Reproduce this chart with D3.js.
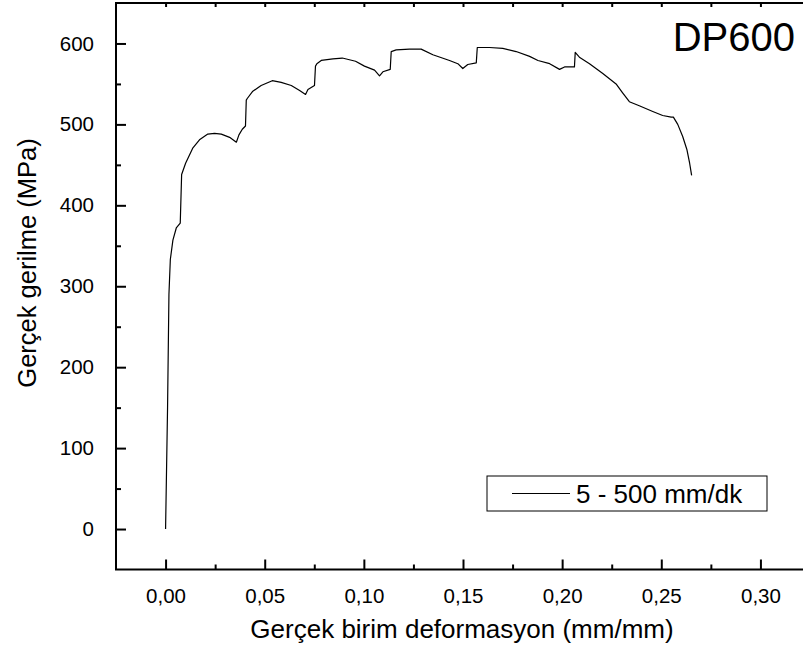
<!DOCTYPE html>
<html>
<head>
<meta charset="utf-8">
<script src="https://cdn.jsdelivr.net/npm/d3@7"></script>
<style>
  body { margin: 0; background: #fff; }
  svg { display: block; font-family: "Liberation Sans", Arial, sans-serif; }
</style>
</head>
<body>
<svg id="chart" width="803" height="651"></svg>
<script>
// strain (mm/mm) and true stress (MPa)
var strain = [0, 0.001, 0.0017, 0.0024, 0.0037, 0.0054, 0.0074, 0.0081, 0.0101, 0.0138,
              0.0171, 0.0213, 0.0247, 0.0281, 0.0323, 0.0357, 0.037, 0.0387, 0.0403, 0.0407,
              0.0412, 0.044, 0.0482, 0.0538, 0.0583, 0.0634, 0.0676, 0.0706, 0.0718, 0.0751,
              0.0756, 0.0763, 0.0785, 0.0844, 0.0891, 0.0958, 0.1003, 0.1054, 0.1079, 0.1096,
              0.1133, 0.1138, 0.1163, 0.123, 0.1289, 0.1348, 0.1432, 0.1474, 0.1499, 0.1524,
              0.1567, 0.1572, 0.1634, 0.1701, 0.1768, 0.1836, 0.1878, 0.1937, 0.1987, 0.2012,
              0.2062, 0.2066, 0.2087, 0.2138, 0.2205, 0.2272, 0.2305, 0.2339, 0.2389, 0.2457,
              0.2507, 0.255, 0.2561, 0.2583, 0.2608, 0.2629, 0.2643, 0.2653];
var stress = [0, 150, 290, 333, 357, 372, 378, 438, 452, 471,
              481, 488, 489, 488, 484, 478, 487, 494, 498, 530,
              532, 541, 548, 554, 552, 548, 542, 537, 543, 548,
              572, 575, 579, 581, 582, 578, 572, 567, 560, 565,
              568, 590, 592, 593, 593, 586, 579, 575, 569, 574,
              576, 595, 595, 594, 590, 584, 579, 575, 568, 571,
              571, 589, 583, 575, 563, 550, 539, 528, 523, 516,
              511, 509, 509, 500, 485, 469, 452, 437];

var xTicks = [0, 0.05, 0.10, 0.15, 0.20, 0.25, 0.30];
var xMinor = [0.025, 0.075, 0.125, 0.175, 0.225, 0.275];
var yTicks = [0, 100, 200, 300, 400, 500, 600];
var yMinor = [50, 150, 250, 350, 450, 550];

var seriesName = "5 - 500 mm/dk";
var chartTitle = "DP600";
var xTitle = "Gerçek birim deformasyon (mm/mm)";
var yTitle = "Gerçek gerilme (MPa)";

var svg = d3.select("#chart");

var pLeft = 116, pRight = 810, pTop = 3, pBottom = 569.5;

var x = d3.scaleLinear().domain([-0.025, 0.325]).range([pLeft, pRight]);
var y = d3.scaleLinear().domain([-50, 650]).range([pBottom, pTop]);

var fmtX = function(d) { return d3.format(".2f")(d).replace(".", ","); };

// frame
svg.append("rect")
   .attr("x", pLeft).attr("y", pTop)
   .attr("width", pRight - pLeft).attr("height", pBottom - pTop)
   .attr("fill", "none").attr("stroke", "#000").attr("stroke-width", 2);

// bottom axis (ticks pointing in)
svg.append("g").attr("transform", "translate(0," + pBottom + ")")
   .call(d3.axisBottom(x).tickValues(xTicks).tickSize(-10).tickPadding(19).tickFormat(fmtX));
svg.append("g").attr("transform", "translate(0," + pBottom + ")")
   .call(d3.axisBottom(x).tickValues(xMinor).tickSize(-5).tickFormat(""));

// top axis, small ticks
svg.append("g").attr("transform", "translate(0," + pTop + ")")
   .call(d3.axisTop(x).tickValues(xTicks.concat(xMinor)).tickSize(-4).tickFormat(""));

// left axis
svg.append("g").attr("transform", "translate(" + pLeft + ",0)")
   .call(d3.axisLeft(y).tickValues(yTicks).tickSize(-10).tickPadding(22));
svg.append("g").attr("transform", "translate(" + pLeft + ",0)")
   .call(d3.axisLeft(y).tickValues(yMinor).tickSize(-5).tickFormat(""));

svg.selectAll(".domain").remove();
svg.selectAll(".tick line").attr("stroke", "#000").attr("stroke-width", 2);
svg.selectAll(".tick text")
   .attr("fill", "#000")
   .style("font-size", "20.5px")
   .style("font-family", "Liberation Sans, Arial, sans-serif");

// curve
var pts = strain.map(function(d, i) { return [d, stress[i]]; });
var line = d3.line().x(function(d) { return x(d[0]); }).y(function(d) { return y(d[1]); });
svg.append("path")
   .datum(pts)
   .attr("d", line)
   .attr("fill", "none")
   .attr("stroke", "#000")
   .attr("stroke-width", 1.2)
   .attr("stroke-linejoin", "round");

// titles
svg.append("text")
   .attr("x", 462).attr("y", 638)
   .attr("text-anchor", "middle")
   .style("font-size", "26px")
   .text(xTitle);

svg.append("text")
   .attr("transform", "translate(36,263) rotate(-90)")
   .attr("text-anchor", "middle")
   .style("font-size", "25.5px")
   .text(yTitle);

svg.append("text")
   .attr("x", 795).attr("y", 51)
   .attr("text-anchor", "end")
   .style("font-size", "40px")
   .text(chartTitle);

// legend
var lg = svg.append("g");
lg.append("rect")
  .attr("x", 487).attr("y", 476)
  .attr("width", 280).attr("height", 35)
  .attr("fill", "#fff").attr("stroke", "#000").attr("stroke-width", 1);
lg.append("line")
  .attr("x1", 512).attr("x2", 570)
  .attr("y1", 493.5).attr("y2", 493.5)
  .attr("stroke", "#000").attr("stroke-width", 1.2);
lg.append("text")
  .attr("x", 576).attr("y", 503)
  .style("font-size", "26px")
  .text(seriesName);
</script>
</body>
</html>
